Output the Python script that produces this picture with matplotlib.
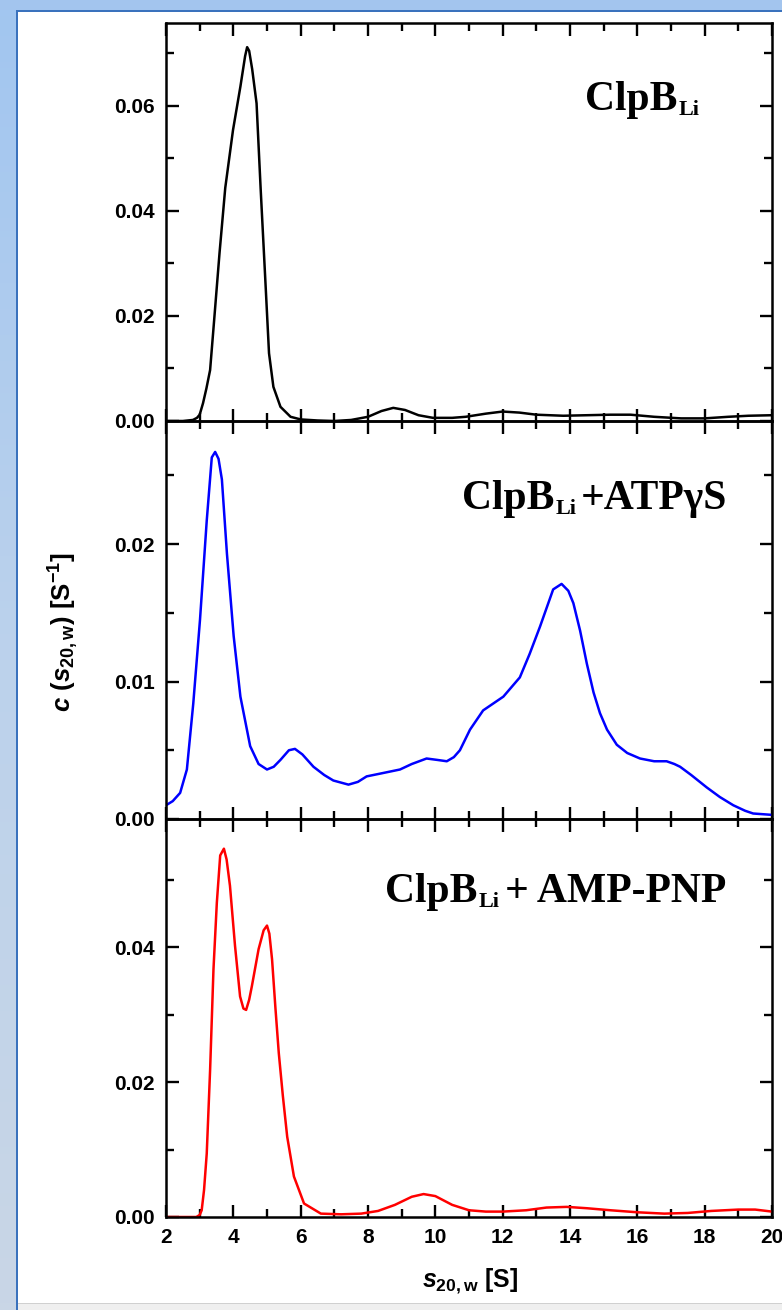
import matplotlib
matplotlib.use('Agg')
import matplotlib.pyplot as plt
from matplotlib.ticker import MultipleLocator, FixedLocator, FuncFormatter
from matplotlib.patches import Rectangle
from matplotlib.colors import LinearSegmentedColormap
import numpy as np

# ---------------- data ----------------
s1 = [2.0, 2.5, 2.8, 2.92, 3.0, 3.1, 3.2, 3.31, 3.43, 3.59, 3.76, 3.99, 4.21, 4.35,
      4.41, 4.47, 4.56, 4.69, 4.81, 4.96, 5.06, 5.19, 5.4, 5.7, 6.0, 6.5, 7.0, 7.5,
      8.0, 8.4, 8.75, 9.1, 9.5, 9.93, 10.5, 10.9, 11.5, 12.0, 12.5, 13.0, 13.8, 14.5,
      15.2, 15.8, 16.5, 17.3, 18.0, 18.7, 19.3, 20.0]
c1 = [0.0, 0.0, 0.0002, 0.0006, 0.0012, 0.0034, 0.0062, 0.0097, 0.0192, 0.032, 0.0444,
      0.0554, 0.0637, 0.0695, 0.0712, 0.0705, 0.067, 0.0605, 0.0444, 0.0256, 0.0129,
      0.0065, 0.0027, 0.0008, 0.0003, 0.0001, 0.0, 0.0002, 0.0008, 0.0019, 0.0025,
      0.0021, 0.0011, 0.0006, 0.0006, 0.0008, 0.0014, 0.0018, 0.0016, 0.0012, 0.0010,
      0.0011, 0.0012, 0.0012, 0.0008, 0.0005, 0.0005, 0.0008, 0.0010, 0.0011]

s2 = [2.0, 2.2, 2.42, 2.62, 2.81, 3.01, 3.21, 3.36, 3.46, 3.56, 3.66, 3.81, 4.01, 4.21,
      4.5, 4.75, 5.0, 5.2, 5.4, 5.65, 5.83, 6.05, 6.38, 6.7, 6.97, 7.42, 7.7, 7.96,
      8.36, 8.95, 9.3, 9.74, 10.05, 10.34, 10.55, 10.73, 11.03, 11.42, 12.02, 12.51,
      12.8, 13.11, 13.5, 13.75, 13.95, 14.1, 14.3, 14.5, 14.7, 14.89, 15.1, 15.39,
      15.7, 16.08, 16.5, 16.87, 17.1, 17.27, 17.6, 18.06, 18.45, 18.85, 19.2, 19.44, 20.0]
c2 = [0.0010, 0.0013, 0.0019, 0.0036, 0.0084, 0.0145, 0.0217, 0.0263, 0.0267, 0.0262,
      0.0247, 0.0193, 0.0133, 0.0089, 0.0053, 0.0040, 0.0036, 0.0038, 0.0043, 0.0050,
      0.0051, 0.0047, 0.0038, 0.0032, 0.0028, 0.0025, 0.0027, 0.0031, 0.0033, 0.0036,
      0.0040, 0.0044, 0.0043, 0.0042, 0.0045, 0.0050, 0.0065, 0.0079, 0.0089, 0.0103,
      0.0120, 0.0140, 0.0167, 0.0171, 0.0166, 0.0157, 0.0137, 0.0113, 0.0092, 0.0077,
      0.0065, 0.0054, 0.0048, 0.0044, 0.0042, 0.0042, 0.0040, 0.0038, 0.0032, 0.0023,
      0.0016, 0.0010, 0.0006, 0.0004, 0.0003]

s3 = [2.0, 2.5, 2.9, 3.0, 3.06, 3.13, 3.21, 3.31, 3.41, 3.51, 3.61, 3.72, 3.8, 3.9,
      4.05, 4.2, 4.3, 4.38, 4.47, 4.55, 4.75, 4.9, 5.0, 5.07, 5.15, 5.25, 5.35, 5.47,
      5.6, 5.8, 6.1, 6.6, 7.2, 7.8, 8.3, 8.8, 9.3, 9.65, 10.0, 10.5, 11.0, 11.5, 12.0,
      12.7, 13.3, 13.9, 14.5, 15.2, 16.0, 16.8, 17.5, 18.2, 19.0, 19.5, 20.0]
c3 = [0.0, 0.0, 0.0, 0.0003, 0.0010, 0.0040, 0.0094, 0.0218, 0.0367, 0.0466, 0.0536,
      0.0546, 0.0530, 0.0491, 0.0402, 0.0327, 0.0309, 0.0307, 0.0322, 0.0342, 0.0397,
      0.0425, 0.0432, 0.0420, 0.0382, 0.0310, 0.0243, 0.0180, 0.0119, 0.0060, 0.0020,
      0.0005, 0.0004, 0.0005, 0.0009, 0.0018, 0.0030, 0.0034, 0.0031, 0.0018, 0.0010,
      0.0008, 0.0008, 0.0010, 0.0014, 0.0015, 0.0013, 0.0010, 0.0007, 0.0005, 0.0006,
      0.0009, 0.0011, 0.0011, 0.0008]

x_ticks = [2, 4, 6, 8, 10, 12, 14, 16, 18, 20]
y_ticks_1 = [0.00, 0.02, 0.04, 0.06]
y_ticks_2 = [0.00, 0.01, 0.02]
y_ticks_3 = [0.00, 0.02, 0.04]

# ---------------- style ----------------
plt.rcParams['mathtext.fontset'] = 'custom'
plt.rcParams['mathtext.it'] = 'Liberation Sans:italic:bold'
plt.rcParams['mathtext.rm'] = 'Liberation Sans:bold'
plt.rcParams['mathtext.sf'] = 'Liberation Sans:bold'
plt.rcParams['mathtext.bf'] = 'Liberation Sans:bold'

W, H = 782, 1310
fig = plt.figure(figsize=(W / 100, H / 100), dpi=100)
fig.patch.set_facecolor('white')

# window-frame decorations
fig.patches.append(Rectangle((0, 1 - 10 / H), 1, 10 / H, transform=fig.transFigure,
                             facecolor='#a3c5ee', edgecolor='none', zorder=-5))
fig.patches.append(Rectangle((16 / W, 1 - 11.5 / H), 1, 1.8 / H, transform=fig.transFigure,
                             facecolor='#3a72bd', edgecolor='none', zorder=-4))
gax = fig.add_axes([0, 0, 16 / W, 1 - 10 / H], zorder=-6)
grad = np.linspace(0, 1, 200).reshape(-1, 1)
cmap = LinearSegmentedColormap.from_list('g', ['#a2c6f0', '#bcd2ec', '#c9d6e6'])
gax.imshow(grad, aspect='auto', cmap=cmap, extent=[0, 1, 0, 1])
gax.axis('off')
fig.patches.append(Rectangle((16 / W, 0), 1.8 / W, 1 - 10 / H, transform=fig.transFigure,
                             facecolor='#3a72bd', edgecolor='none', zorder=-4))
fig.patches.append(Rectangle((18 / W, 0), 1, 6 / H, transform=fig.transFigure,
                             facecolor='#efefef', edgecolor='none', zorder=-4))
fig.patches.append(Rectangle((18 / W, 6 / H), 1, 1 / H, transform=fig.transFigure,
                             facecolor='#d0d0d0', edgecolor='none', zorder=-4))

left = 166 / W
width = (772 - 166) / W
ph = 398 / H
bottoms = [1 - 421 / H, 1 - 819 / H, 1 - 1217 / H]
ylims = [0.0758, 0.02895, 0.059]
ymajor = [y_ticks_1, y_ticks_2, y_ticks_3]
yminor = [0.01, 0.005, 0.01]
series = [(s1, c1, 'black'), (s2, c2, '#0000ff'), (s3, c3, '#ff0000')]

tickfont = dict(family='Liberation Sans', weight='bold', size=15)

axes = []
for i in range(3):
    ax = fig.add_axes([left, bottoms[i], width, ph])
    s, c, col = series[i]
    ax.plot(s, c, color=col, lw=1.8, solid_joinstyle='round')
    ax.set_xlim(2, 20)
    ax.set_ylim(0, ylims[i])
    ax.xaxis.set_major_locator(FixedLocator(x_ticks))
    ax.xaxis.set_minor_locator(MultipleLocator(1))
    ax.yaxis.set_major_locator(FixedLocator(ymajor[i]))
    ax.yaxis.set_minor_locator(MultipleLocator(yminor[i]))
    ax.yaxis.set_major_formatter(FuncFormatter(lambda v, p: f'{v:.2f}'))
    ax.tick_params(which='both', direction='in', top=True, right=True, width=1.7,
                   color='black')
    ax.tick_params(which='major', length=9, pad=8)
    ax.tick_params(which='minor', length=5.5)
    for sp in ax.spines.values():
        sp.set_linewidth(1.8)
    for lab in ax.get_yticklabels():
        lab.set_fontproperties(tickfont)
    if i < 2:
        ax.set_xticklabels([])
    else:
        ax.xaxis.set_major_formatter(FuncFormatter(lambda v, p: f'{v:.0f}'))
        for lab in ax.get_xticklabels():
            lab.set_fontproperties(tickfont)
    ax.set_facecolor('none')
    axes.append(ax)


def rich_label(ax, x_axes, y_axes, pieces):
    prev = None
    for txt, size, dy, gap in pieces:
        kw = dict(fontfamily='Liberation Serif', fontweight='bold', fontsize=size,
                  color='black', ha='left', va='baseline')
        if prev is None:
            prev = ax.text(x_axes, y_axes, txt, transform=ax.transAxes, **kw)
        else:
            prev = ax.annotate(txt, xy=(1, y_axes), xycoords=(prev, ax.transAxes),
                               xytext=(gap, dy), textcoords='offset pixels', **kw)


rich_label(axes[0], (585 - 166) / 606, 1 - 87 / 398,
           [('ClpB', 30, 0, 0), ('Li', 16, -5, 1)])
rich_label(axes[1], (462 - 166) / 606, 1 - 88 / 398,
           [('ClpB', 30, 0, 0), ('Li', 16, -5, 1), ('+ATPγS', 30, 0, 4)])
rich_label(axes[2], (385 - 166) / 606, 1 - 83 / 398,
           [('ClpB', 30, 0, 0), ('Li', 16, -5, 1), ('+ AMP-PNP', 30, 0, 6)])

fig.text(64 / W, 1 - 632 / H, r'$c$ ($s_{\mathrm{20,w}}$) [S$^{\mathrm{-1}}$]',
         rotation=90, ha='center', va='center', fontfamily='Liberation Sans',
         fontweight='bold', fontsize=18.5, color='black')
fig.text(470 / W, 1 - 1281 / H, r'$s_{\mathrm{20,w}}$ [S]', ha='center', va='center',
         fontfamily='Liberation Sans', fontweight='bold', fontsize=18, color='black')

fig.savefig('out.png', dpi=100)
